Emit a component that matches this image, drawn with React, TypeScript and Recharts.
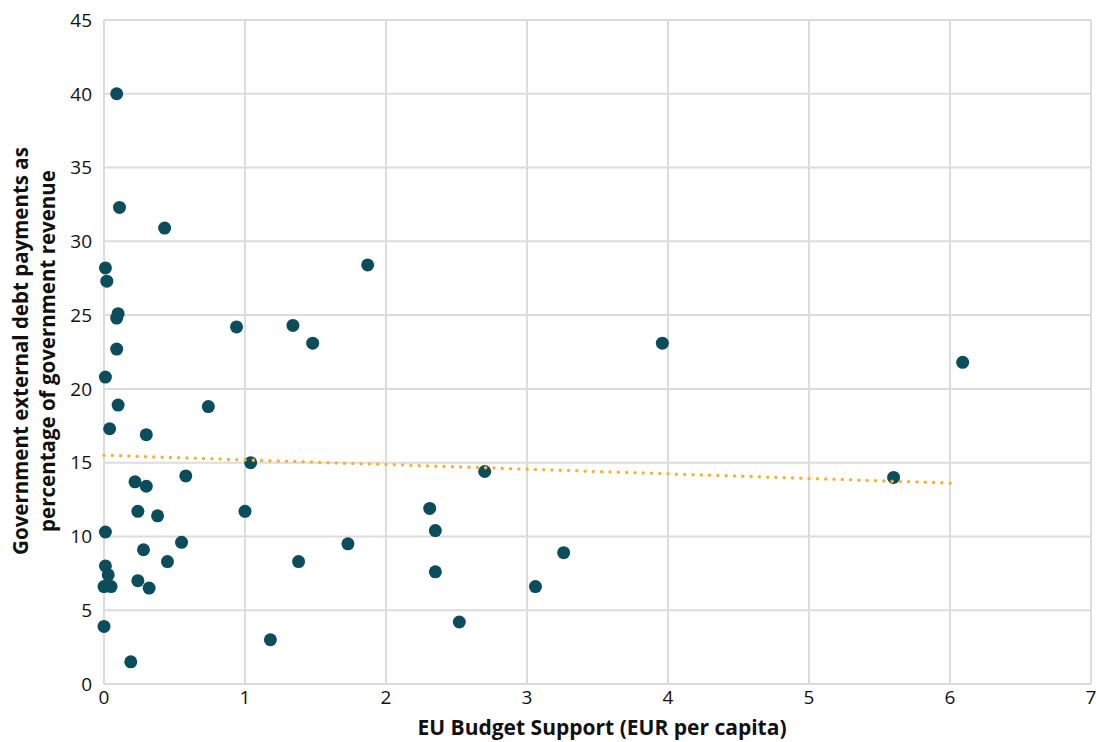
import React from "react";
import {
  ScatterChart, Scatter, XAxis, YAxis, CartesianGrid, Label,
} from "recharts";

// EU budget support (EUR per capita)
const supportX = [
  0.09, 0.11, 0.43, 0.01, 0.02, 0.1, 0.09, 0.09, 0.01, 0.1,
  0.04, 0.3, 0.22, 0.3, 0.24, 0.38, 0.01, 0.28, 0.01, 0.03,
  0.0, 0.05, 0.24, 0.32, 0.45, 0.55, 0.58, 0.0, 0.19, 0.74,
  0.94, 1.04, 1.0, 1.18, 1.34, 1.48, 1.38, 1.73, 1.87, 2.31,
  2.35, 2.35, 2.52, 2.7, 3.06, 3.26, 3.96, 5.6, 6.09,
];

// external debt payments as % of government revenue
const debtY = [
  40.0, 32.3, 30.9, 28.2, 27.3, 25.1, 24.8, 22.7, 20.8, 18.9,
  17.3, 16.9, 13.7, 13.4, 11.7, 11.4, 10.3, 9.1, 8.0, 7.4,
  6.6, 6.6, 7.0, 6.5, 8.3, 9.6, 14.1, 3.9, 1.5, 18.8,
  24.2, 15.0, 11.7, 3.0, 24.3, 23.1, 8.3, 9.5, 28.4, 11.9,
  10.4, 7.6, 4.2, 14.4, 6.6, 8.9, 23.1, 14.0, 21.8,
];

// linear trend endpoints as drawn
const trendX = [0, 6.04];
const trendY = [15.5, 13.6];

const xTicks = [0, 1, 2, 3, 4, 5, 6, 7];
const yTicks = [0, 5, 10, 15, 20, 25, 30, 35, 40, 45];

const points = supportX.map((x, i) => ({ x, y: debtY[i] }));
const trend = trendX.map((x, i) => ({ x, y: trendY[i] }));

const FONT = "'Open Sans', sans-serif";
const GRID = "#dcdcdc";
const DOT = "#0b4d5a";
const TREND = "#f9b233";

const titleStyle = {
  fontFamily: FONT,
  fontWeight: 700,
  fontSize: 20.5,
  fill: "#111",
};

const YTitle = () => (
  <g>
    <text transform="translate(20, 351) rotate(-90)" textAnchor="middle" dominantBaseline="central" style={titleStyle}>
      Government external debt payments as
    </text>
    <text transform="translate(47, 351) rotate(-90)" textAnchor="middle" dominantBaseline="central" style={titleStyle}>
      percentage of government revenue
    </text>
  </g>
);

const XTitle = () => (
  <text x={602} y={727} textAnchor="middle" dominantBaseline="central" style={{ ...titleStyle, fontSize: 21 }}>
    EU Budget Support (EUR per capita)
  </text>
);

// eslint-disable-next-line @typescript-eslint/no-explicit-any
const Dot = (props: any) => <circle cx={props.cx} cy={props.cy} r={6.5} fill={DOT} />;

export default function App() {
  return (
    <div style={{ position: "absolute", left: 0, top: 0, width: 1096, height: 742, background: "#fff" }}>
      <ScatterChart width={1096} height={742} margin={{ top: 20, right: 5, bottom: 0, left: 0 }}>
        <CartesianGrid stroke={GRID} strokeWidth={2} />
        <XAxis
          type="number"
          dataKey="x"
          domain={[0, 7]}
          ticks={xTicks}
          interval={0}
          height={58}
          tickLine={false}
          axisLine={{ stroke: GRID, strokeWidth: 2 }}
          tick={{ fill: "#111", fontSize: 19, fontFamily: FONT }}
          tickMargin={1}
        >
          <Label content={<XTitle />} />
        </XAxis>
        <YAxis
          type="number"
          dataKey="y"
          domain={[0, 45]}
          ticks={yTicks}
          interval={0}
          width={104}
          tickLine={false}
          axisLine={{ stroke: GRID, strokeWidth: 2 }}
          tick={{ fill: "#111", fontSize: 19, fontFamily: FONT }}
          tickMargin={6}
        >
          <Label content={<YTitle />} />
        </YAxis>
        <Scatter data={points} fill={DOT} shape={<Dot />} isAnimationActive={false} />
        <Scatter
          data={trend}
          line={{ stroke: TREND, strokeWidth: 3.5, strokeDasharray: "0 8.3", strokeLinecap: "round" }}
          shape={() => <g />}
          isAnimationActive={false}
        />
      </ScatterChart>
    </div>
  );
}
